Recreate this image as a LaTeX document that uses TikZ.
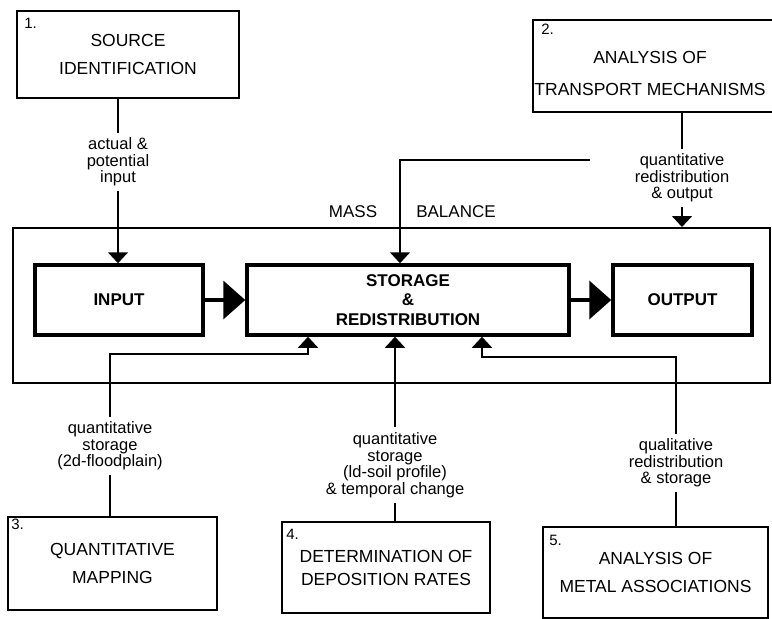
\documentclass[tikz,border=0pt]{standalone}
\usepackage{fontspec}
\setmainfont{Liberation Sans}
\usetikzlibrary{arrows.meta,positioning}
\tikzset{
  unitbox/.style={draw, line width=1.6pt, inner sep=0pt},
  flowbox/.style={draw, line width=3.5pt, inner sep=0pt, align=center,
    font=\fontsize{17}{19.5}\selectfont\bfseries},
  boxtitle/.style={align=center, font=\fontsize{17.5}{28}\selectfont},
  stepnum/.style={anchor=north west, inner sep=0pt, font=\fontsize{15}{15}\selectfont},
  flowlabel/.style={align=center, inner sep=5pt, font=\fontsize{16.5}{16.5}\selectfont},
  joinline/.style={line width=1.7pt},
  feed/.style={line width=1.7pt, -{Triangle[width=20pt,length=11pt]}},
  mainflow/.style={line width=4pt, -{Triangle[width=38pt,length=22pt]}},
}
\begin{document}
\begin{tikzpicture}[x=1pt,y=-1pt]
\clip (0,0) rectangle (772,619);
% mass balance frame
\node[draw, line width=2pt, inner sep=0pt, minimum width=757, minimum height=155] (mass) at (391.5,305.5) {};
\node[font=\fontsize{17}{17}\selectfont] (masslabel) at (353,212) {MASS};
\node[font=\fontsize{17}{17}\selectfont] (balancelabel) at (456,212) {BALANCE};
\node[flowbox, minimum width=168, minimum height=70] (input) at (119,300) {INPUT};
\node[flowbox, minimum width=322, minimum height=70] (storage) at (408,300) {STORAGE\\\&\\REDISTRIBUTION};
\node[flowbox, minimum width=139, minimum height=70] (output) at (682.5,300) {OUTPUT};
\draw[mainflow] (input) -- (storage);
\draw[mainflow] (storage) -- (output);
% the five studies
\node[unitbox, boxtitle, minimum width=222, minimum height=87] (source) at (128,54.5) {SOURCE\\IDENTIFICATION};
\node[unitbox, minimum width=267, minimum height=92] (transport) at (666.5,66) {};
\node[boxtitle, font=\fontsize{17.5}{32}\selectfont] (transporttitle) at (650,73) {ANALYSIS OF\\TRANSPORT MECHANISMS};
\node[unitbox, boxtitle, minimum width=209, minimum height=93] (mapping) at (112.5,563.5) {QUANTITATIVE\\MAPPING};
\node[unitbox, boxtitle, font=\fontsize{17.5}{23}\selectfont, minimum width=208, minimum height=91] (deposition) at (386,567.5) {DETERMINATION OF\\DEPOSITION RATES};
\node[unitbox, boxtitle, minimum width=225, minimum height=91] (association) at (655.5,572.5) {ANALYSIS OF\\METAL ASSOCIATIONS};
\node[stepnum] (num1) at ([shift={(8,8)}]source.north west) {1.};
\node[stepnum] (num2) at ([shift={(9,5)}]transport.north west) {2.};
\node[stepnum] (num3) at ([shift={(4,3)}]mapping.north west) {3.};
\node[stepnum] (num4) at ([shift={(5,8)}]deposition.north west) {4.};
\node[stepnum] (num5) at ([shift={(7,9)}]association.north west) {5.};
\node[flowlabel] (sourcelabel) at (118,162) {actual \&\\potential\\input};
\node[flowlabel] (transportlabel) at (682,178) {quantitative\\redistribution\\\& output};
\node[flowlabel] (mappinglabel) at (110,446) {quantitative\\storage\\(2d-floodplain)};
\node[flowlabel] (depositionlabel) at (395,465) {quantitative\\storage\\(ld-soil profile)\\\& temporal change};
\node[flowlabel] (associationlabel) at (676,463) {qualitative\\redistribution\\\& storage};
\coordinate (redistin) at (590,160);
\coordinate (mapjoin) at ([shift={(-100,17)}]storage.south);
\coordinate (assocjoin) at ([shift={(74,20)}]storage.south);
\draw[joinline] (source.south -| sourcelabel.north) -- (sourcelabel.north);
\draw[feed] (sourcelabel.south) -- (sourcelabel.south |- input.north);
\draw[joinline] (transport.south -| transportlabel.north) -- (transportlabel.north);
\draw[feed] (transportlabel.south) -- (transportlabel.south |- mass.north);
\draw[feed] (redistin) -| ([shift={(-8,0)}]storage.north);
\draw[joinline] (mapping.north -| mappinglabel.south) -- (mappinglabel.south);
\draw[feed] (mappinglabel.north) |- (mapjoin) -- (mapjoin |- storage.south);
\draw[joinline] (deposition.north -| depositionlabel.south) -- (depositionlabel.south);
\draw[feed] (depositionlabel.north) -- (depositionlabel.north |- storage.south);
\draw[joinline] (association.north -| associationlabel.south) -- (associationlabel.south);
\draw[feed] (associationlabel.north) |- (assocjoin) -- (assocjoin |- storage.south);
\end{tikzpicture}
\end{document}
